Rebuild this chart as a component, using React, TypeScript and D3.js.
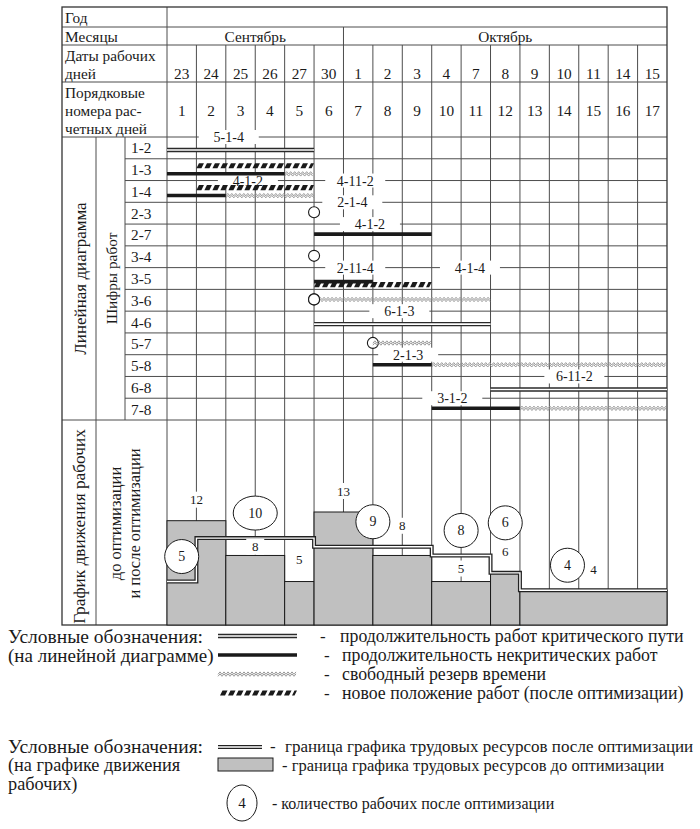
/**
 * Линейная диаграмма работ и график движения рабочих до и после оптимизации.
 * Верх: сетка календаря, ниже — полосы работ по шифрам, внизу — ступенчатый
 * график численности рабочих (серые столбцы — до, двойная линия — после).
 */

import * as d3 from "d3";

const DATES = ["23", "24", "25", "26", "27", "30", "1", "2", "3", "4", "7", "8", "9", "10", "11", "14", "15"];
const ORDINALS = ["1", "2", "3", "4", "5", "6", "7", "8", "9", "10", "11", "12", "13", "14", "15", "16", "17"];
const MONTHS = ["Сентябрь", "Октябрь"];
const MONTH_DAYS = [6, 11];
const WORKS = ["1-2", "1-3", "1-4", "2-3", "2-7", "3-4", "3-5", "3-6", "4-6", "5-7", "5-8", "6-8", "7-8"];

// bars in working-day units (0..17)
const CRITICAL = [
  { work: "1-2", start: 0, end: 5 },
  { work: "4-6", start: 5, end: 11 },
  { work: "6-8", start: 11, end: 17 },
];
const NONCRITICAL = [
  { work: "1-3", start: 0, end: 4 },
  { work: "1-4", start: 0, end: 2 },
  { work: "2-7", start: 5, end: 9 },
  { work: "3-5", start: 5, end: 7 },
  { work: "5-8", start: 7, end: 9 },
  { work: "7-8", start: 9, end: 12 },
];
const FREE_FLOAT = [
  { work: "1-3", start: 4, end: 5 },
  { work: "1-4", start: 2, end: 5 },
  { work: "3-6", start: 5, end: 11 },
  { work: "5-7", start: 7, end: 9 },
  { work: "5-8", start: 9, end: 17 },
  { work: "7-8", start: 12, end: 17 },
];
const SHIFTED = [
  { work: "1-3", start: 1, end: 5 },
  { work: "1-4", start: 1, end: 5 },
  { work: "3-5", start: 5, end: 9 },
];
const EVENTS = [
  { work: "2-3", day: 5 },
  { work: "3-4", day: 5 },
  { work: "3-6", day: 5 },
  { work: "5-7", day: 7 },
];
// labels sit on the top border of the given row
const WORK_LABELS = [
  { work: "1-2", text: "5-1-4", at: 2.1 },
  { work: "1-4", text: "4-1-2", at: 2.75 },
  { work: "1-4", text: "4-11-2", at: 6.4 },
  { work: "2-3", text: "2-1-4", at: 6.3 },
  { work: "2-7", text: "4-1-2", at: 6.9 },
  { work: "3-5", text: "2-11-4", at: 6.4 },
  { work: "3-5", text: "4-1-4", at: 10.3 },
  { work: "4-6", text: "6-1-3", at: 7.9 },
  { work: "5-8", text: "2-1-3", at: 8.2 },
  { work: "6-8", text: "6-11-2", at: 13.85 },
  { work: "7-8", text: "3-1-2", at: 9.7 },
];

const WORKERS_BEFORE = [12, 12, 8, 8, 5, 13, 13, 8, 8, 5, 5, 6, 4, 4, 4, 4, 4];
const WORKERS_AFTER = [5, 10, 10, 10, 10, 9, 9, 9, 9, 8, 8, 6, 4, 4, 4, 4, 4];

const LEGEND_LINE = [
  "продолжительность работ критического пути",
  "продолжительность некритических работ",
  "свободный резерв времени",
  "новое положение работ (после оптимизации)",
];
const LEGEND_WORKERS = [
  "граница графика трудовых ресурсов после оптимизации",
  "граница графика трудовых ресурсов до оптимизации",
  "количество рабочих после оптимизации",
];

const FONT = "Liberation Serif, DejaVu Serif, serif";
const INK = "#1a1a1a";
const GRID = "#4d4d4d";
const FLOAT_C = "#8f8f8f";
const GRAY = "#c0c0c0";

// table frame
const L = 62;
const C1 = 96;
const C2 = 125;
const C3 = 167;
const R = 667;
const HEAD = [7, 27, 45, 82, 137];
const G_BOTTOM = 420;
const W_BOTTOM = 625;

function runs(vals: number[]) {
  const out: { v: number; s: number; e: number }[] = [];
  vals.forEach((v, i) => {
    const last = out[out.length - 1];
    if (last && last.v === v && last.e === i) last.e = i + 1;
    else out.push({ v, s: i, e: i + 1 });
  });
  return out;
}

function zigzag(x0: number, x1: number, y: number) {
  const pts = d3.range(x0, x1 + 0.01, 2).map((px, i) => [px, y + (i % 2 ? -1.2 : 1.2)] as [number, number]);
  return d3.line()(pts) ?? "";
}

function hatchPolys(x0: number, x1: number, y: number) {
  return d3.range(x0, x1 - 3, 8).map((px) => {
    const r = Math.min(px + 7.5, x1);
    return [
      [px, y + 2.6],
      [px + 2.5, y - 2.6],
      [r, y - 2.6],
      [r - 2.5, y + 2.6],
    ]
      .map((p) => p.join(","))
      .join(" ");
  });
}

function Float({ x0, x1, y }: { x0: number; x1: number; y: number }) {
  return (
    <g fill="none" stroke={FLOAT_C} strokeWidth={0.9}>
      <path d={zigzag(x0, x1, y - 0.9)} />
      <path d={zigzag(x0, x1, y + 1.1)} />
    </g>
  );
}

function Hatch({ x0, x1, y }: { x0: number; x1: number; y: number }) {
  return (
    <g fill={INK}>
      {hatchPolys(x0, x1, y).map((p, i) => (
        <polygon key={i} points={p} />
      ))}
    </g>
  );
}

function Critical({ x0, x1, y }: { x0: number; x1: number; y: number }) {
  return (
    <g>
      <line x1={x0} x2={x1} y1={y} y2={y} stroke="#2a2a2a" strokeWidth={4.4} />
      <line x1={x0} x2={x1} y1={y} y2={y} stroke="#fff" strokeWidth={1.6} />
    </g>
  );
}

export default function App() {
  const x = d3.scaleLinear().domain([0, 17]).range([C3, R]);
  const yRow = d3.scaleBand<string>().domain(WORKS).range([HEAD[4], G_BOTTOM]);
  const yW = d3.scaleLinear().domain([0, 13]).range([W_BOTTOM, 512]);
  const top = (w: string) => yRow(w)!;
  const bw = yRow.bandwidth();

  const shiftedRows = new Set(SHIFTED.map((d) => d.work));
  const ncY = (w: string) => {
    const sh = SHIFTED.find((s) => s.work === w);
    const nc = NONCRITICAL.find((n) => n.work === w);
    if (sh && nc && sh.start === nc.start) return top(w) + 14;
    return top(w) + (shiftedRows.has(w) ? 15 : 10);
  };
  const shY = (w: string) => {
    const nc = NONCRITICAL.find((n) => n.work === w);
    const sh = SHIFTED.find((s) => s.work === w)!;
    if (nc && nc.start === sh.start) return ncY(w) + 3;
    return top(w) + 7;
  };
  const floatY = (w: string) => (NONCRITICAL.some((n) => n.work === w) ? ncY(w) : top(w) + 10);

  // month boundaries
  const monthEdges = Array.from(d3.cumsum(MONTH_DAYS));
  const monthStarts = [0, ...monthEdges.slice(0, -1)];

  // workers chart: before-labels and after-circles
  const before = runs(WORKERS_BEFORE).map((r) => {
    const t = yW(r.v);
    const a = yW(d3.max(WORKERS_AFTER.slice(r.s, r.e))!);
    const gap = t - a;
    const ly = gap > 12 ? (t + a) / 2 : Math.min(t, a) - 21;
    return { ...r, cx: x((r.s + r.e) / 2), t, ly };
  });
  const after = runs(WORKERS_AFTER).map((r) => {
    let cx = x((r.s + r.e) / 2);
    let cy = yW(r.v) - 25;
    const hit = before.find((b) => Math.abs(b.cx - cx) < 26 && Math.abs(b.ly - cy) < 24);
    if (hit) {
      if (r.e - r.s >= 4) cx -= 26;
      else cy = hit.ly - 29;
    }
    return { ...r, cx, cy, rx: String(r.v).length > 1 ? 22 : 17 };
  });
  const stepPts: [number, number][] = [
    ...WORKERS_AFTER.map((v, i) => [x(i), yW(v)] as [number, number]),
    [x(17), yW(WORKERS_AFTER[16])],
  ];
  const stepPath = d3.line().curve(d3.curveStepAfter)(stepPts) ?? "";

  const gridV = d3.range(1, 17).map((i) => x(i));
  const fs = 15.3;

  return (
    <svg
      width={700}
      height={829}
      style={{ position: "absolute", left: 0, top: 0, background: "#fff", fontFamily: FONT }}
      fill={INK}
    >
      {/* ---------- grid ---------- */}
      <g stroke={GRID} strokeWidth={1}>
        {gridV.map((gx, i) => (
          <line key={`v${i}`} x1={gx} x2={gx} y1={HEAD[2]} y2={W_BOTTOM} />
        ))}
        {monthEdges.slice(0, -1).map((m, i) => (
          <line key={`m${i}`} x1={x(m)} x2={x(m)} y1={HEAD[1]} y2={HEAD[2]} />
        ))}
        {HEAD.slice(1).map((hy, i) => (
          <line key={`h${i}`} x1={L} x2={R} y1={hy} y2={hy} />
        ))}
        {WORKS.slice(1).map((w) => (
          <line key={`r${w}`} x1={C2} x2={R} y1={top(w)} y2={top(w)} />
        ))}
        <line x1={L} x2={R} y1={G_BOTTOM} y2={G_BOTTOM} />
        <line x1={C1} x2={C1} y1={HEAD[4]} y2={W_BOTTOM} />
        <line x1={C2} x2={C2} y1={HEAD[4]} y2={G_BOTTOM} />
        <line x1={C3} x2={C3} y1={HEAD[0]} y2={W_BOTTOM} />
      </g>
      <rect x={L} y={HEAD[0]} width={R - L} height={W_BOTTOM - HEAD[0]} fill="none" stroke="#333" strokeWidth={1.3} />

      {/* ---------- header text ---------- */}
      <g fontSize={fs} dominantBaseline="central">
        <text x={L + 3} y={17}>Год</text>
        <text x={L + 3} y={36}>Месяцы</text>
        <text x={L + 3} y={55}>Даты рабочих</text>
        <text x={L + 3} y={73}>дней</text>
        <text x={L + 3} y={92}>Порядковые</text>
        <text x={L + 3} y={110}>номера рас-</text>
        <text x={L + 3} y={128}>четных дней</text>
        {MONTHS.map((m, i) => (
          <text key={m} x={x(monthStarts[i] + MONTH_DAYS[i] / 2)} y={36} textAnchor="middle">
            {m}
          </text>
        ))}
        {DATES.map((d, i) => (
          <text key={`d${i}`} x={x(i + 0.5)} y={73} textAnchor="middle">
            {d}
          </text>
        ))}
        {ORDINALS.map((d, i) => (
          <text key={`o${i}`} x={x(i + 0.5)} y={110} textAnchor="middle">
            {d}
          </text>
        ))}
        {WORKS.map((w) => (
          <text key={`c${w}`} x={C2 + 6} y={top(w) + bw / 2}>
            {w}
          </text>
        ))}
        <text transform={`translate(${(L + C1) / 2 + 1},${(HEAD[4] + G_BOTTOM) / 2}) rotate(-90)`} textAnchor="middle" fontSize={17}>
          Линейная диаграмма
        </text>
        <text transform={`translate(${(C1 + C2) / 2 + 1},${(HEAD[4] + G_BOTTOM) / 2}) rotate(-90)`} textAnchor="middle">
          Шифры  работ
        </text>
        <text transform={`translate(${(L + C1) / 2},${(G_BOTTOM + W_BOTTOM) / 2 + 4}) rotate(-90)`} textAnchor="middle" fontSize={17.3}>
          График движения рабочих
        </text>
        <text transform={`translate(115,${(G_BOTTOM + W_BOTTOM) / 2 + 1}) rotate(-90)`} textAnchor="middle" fontSize={16.5}>
          до оптимизации
        </text>
        <text transform={`translate(134,${(G_BOTTOM + W_BOTTOM) / 2 + 1}) rotate(-90)`} textAnchor="middle" fontSize={16.5}>
          и после оптимизации
        </text>
      </g>

      {/* ---------- linear diagram ---------- */}
      <g>
        {EVENTS.map((e, i) => (
          <circle key={`e${i}`} cx={x(e.day)} cy={top(e.work) + 10} r={5.5} fill="#fff" stroke={INK} strokeWidth={1.1} />
        ))}
        {WORK_LABELS.map((l, i) => (
          <rect key={`lb${i}`} x={x(l.at) - 30} y={top(l.work) - 7} width={60} height={14} fill="#fff" />
        ))}
        {CRITICAL.map((c) => (
          <Critical key={`cr${c.work}`} x0={x(c.start)} x1={x(c.end)} y={top(c.work) + 13} />
        ))}
        {FREE_FLOAT.map((f) => (
          <Float key={`ff${f.work}`} x0={x(f.start)} x1={x(f.end)} y={floatY(f.work)} />
        ))}
        {NONCRITICAL.map((n) => (
          <line key={`nc${n.work}`} x1={x(n.start)} x2={x(n.end)} y1={ncY(n.work)} y2={ncY(n.work)} stroke={INK} strokeWidth={3.6} />
        ))}
        {SHIFTED.map((s) => (
          <Hatch key={`sh${s.work}`} x0={x(s.start)} x1={x(s.end)} y={shY(s.work)} />
        ))}
        {EVENTS.filter((e) => e.work === "3-6").map((e, i) => (
          <circle key={`e2${i}`} cx={x(e.day)} cy={top(e.work) + 10} r={5.5} fill="#fff" stroke={INK} strokeWidth={1.1} />
        ))}
        <g fontSize={14} textAnchor="middle" dominantBaseline="central">
          {WORK_LABELS.map((l, i) => (
            <text key={`lt${i}`} x={x(l.at)} y={top(l.work) + 0.5}>
              {l.text}
            </text>
          ))}
        </g>
      </g>

      {/* ---------- workers chart ---------- */}
      <g>
        {before.map((b, i) => (
          <rect key={`b${i}`} x={x(b.s)} y={b.t} width={x(b.e) - x(b.s)} height={W_BOTTOM - b.t} fill={GRAY} stroke={INK} strokeWidth={1} />
        ))}
        <path d={stepPath} fill="none" stroke="#222" strokeWidth={4} />
        <path d={stepPath} fill="none" stroke="#fff" strokeWidth={1.4} />
        {before.map((b, i) => (
          <g key={`bl${i}`}>
            <rect x={b.cx - 9} y={b.ly - 8} width={18} height={16} fill="#fff" />
            <text x={b.cx} y={b.ly} textAnchor="middle" dominantBaseline="central" fontSize={13}>
              {b.v}
            </text>
          </g>
        ))}
        {after.map((a, i) => (
          <g key={`a${i}`}>
            <ellipse cx={a.cx} cy={a.cy} rx={a.rx} ry={17} fill="#fff" stroke={INK} strokeWidth={1} />
            <text x={a.cx} y={a.cy} textAnchor="middle" dominantBaseline="central" fontSize={14}>
              {a.v}
            </text>
          </g>
        ))}
      </g>

      {/* ---------- legend: linear diagram ---------- */}
      <g fontSize={19.5} dominantBaseline="central">
        <text x={8} y={636}>Условные обозначения:</text>
        <text x={8} y={655} fontSize={19}>(на линейной  диаграмме)</text>
        <Critical x0={218} x1={297} y={636} />
        <line x1={218} x2={297} y1={655} y2={655} stroke={INK} strokeWidth={3.6} />
        <Float x0={218} x1={297} y={674} />
        <Hatch x0={220} x1={297} y={693} />
        {LEGEND_LINE.map((t, i) => (
          <g key={`ll${i}`}>
            <text x={i === 0 ? 320 : 324} y={636 + i * 19} fontSize={17}>-</text>
            <text x={i === 0 ? 340 : 342} y={636 + i * 19} fontSize={17.8}>
              {t}
            </text>
          </g>
        ))}
      </g>

      {/* ---------- legend: workers chart ---------- */}
      <g fontSize={19.5} dominantBaseline="central">
        <text x={8} y={746}>Условные обозначения:</text>
        <text x={8} y={765} fontSize={18.3}>(на графике движения</text>
        <text x={8} y={784} fontSize={18.3}>рабочих)</text>
        <line x1={218} x2={262} y1={747} y2={747} stroke="#222" strokeWidth={4} />
        <line x1={218} x2={262} y1={747} y2={747} stroke="#fff" strokeWidth={1.4} />
        <rect x={218} y={758} width={55} height={13} fill={GRAY} stroke={INK} strokeWidth={1} />
        <ellipse cx={242} cy={803} rx={15} ry={18} fill="#fff" stroke={INK} strokeWidth={1} />
        <text x={242} y={803} textAnchor="middle" fontSize={15}>4</text>
        <text x={270} y={746} fontSize={17}>-</text>
        <text x={285} y={746} fontSize={17}>{LEGEND_WORKERS[0]}</text>
        <text x={282} y={765} fontSize={16.5}>- {LEGEND_WORKERS[1]}</text>
        <text x={272} y={803} fontSize={16}>- {LEGEND_WORKERS[2]}</text>
      </g>
    </svg>
  );
}
